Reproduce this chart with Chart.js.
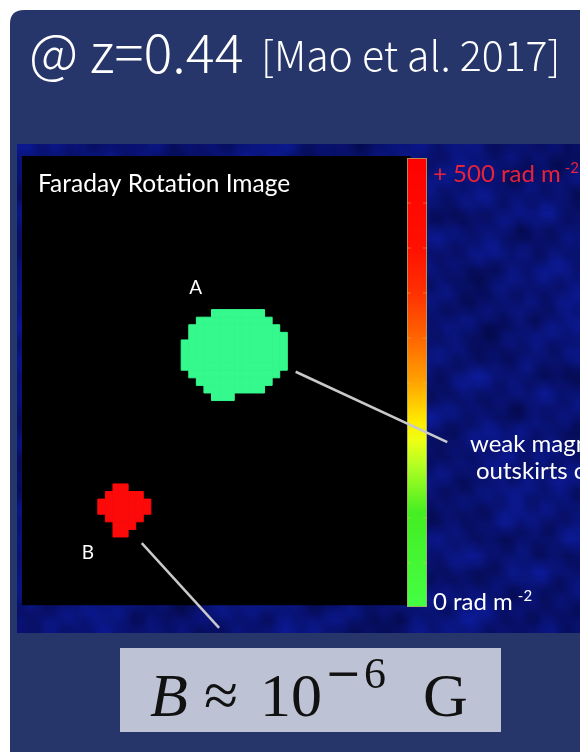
<!DOCTYPE html>
<html><head><meta charset="utf-8">
<script src="https://cdn.jsdelivr.net/npm/chart.js@4/dist/chart.umd.min.js"></script>
<style>html,body{margin:0;padding:0;background:#fff;overflow:hidden}canvas{display:block}</style>
</head><body><canvas id="c" width="580" height="752"></canvas>
<script>
// Faraday rotation map (map-pixel grid): rows and first/last column of each source
const blobARows  = [20,21,22,23,24,25,26,27,28,29,30,31];
const blobAStart = [25,23,22,22,21,21,21,21,22,23,24,25];
const blobAEnd   = [31,32,33,34,34,34,34,34,33,32,31,27];
const blobBRows  = [43,44,45,46,47,48,49];
const blobBStart = [12,11,10,10,11,12,12];
const blobBEnd   = [13,15,16,16,15,14,13];
// source labels (map coordinates)
const sourceNames  = ['A','B'];
const sourceLabelX = [22.4, 8.2];
const sourceLabelY = [16.7, 51.6];
// leader lines (map coordinates)
const leaderA = [{x:35.6,y:27.7},{x:55.6,y:37.0}];
const leaderB = [{x:15.3,y:50.3},{x:25.5,y:61.5}];
// colour bar range labels
const rmLabels = ['+ 500 rad m', '0 rad m'];
const titleMain = '@ z=0.44';
const titleRef = '[Mao et al. 2017]';
const mapTitle = 'Faraday Rotation Image';
const sideText = ['weak magnetic', 'outskirts of'];

function cells(rows, s, e){
  const out=[];
  rows.forEach((r,i)=>{ for(let c=s[i]; c<=e[i]; c++) out.push({x:c,y:r}); });
  return out;
}
const cellRadius = (ctx)=>{
  const sx = ctx.chart.scales.x;
  return Math.abs(sx.getPixelForValue(1)-sx.getPixelForValue(0))/Math.SQRT2;
};

function roundRect(ctx,x,y,w,h,r){
  ctx.beginPath();
  ctx.moveTo(x+r,y); ctx.lineTo(x+w-r,y); ctx.quadraticCurveTo(x+w,y,x+w,y+r);
  ctx.lineTo(x+w,y+h-r); ctx.quadraticCurveTo(x+w,y+h,x+w-r,y+h);
  ctx.lineTo(x+r,y+h); ctx.quadraticCurveTo(x,y+h,x,y+h-r);
  ctx.lineTo(x,y+r); ctx.quadraticCurveTo(x,y,x+r,y); ctx.closePath();
}

// decorative mottled blue background texture (not data)
function makeTexture(){
  const W=70,H=60;
  const off=document.createElement('canvas'); off.width=W; off.height=H;
  const o=off.getContext('2d'); const img=o.createImageData(W,H);
  for(let y=0;y<H;y++) for(let x=0;x<W;x++){
    let v = 0.52
      + 0.14*Math.sin(x*0.61+y*0.23+1.3)*Math.cos(y*0.47-x*0.19)
      + 0.12*Math.sin(x*0.27-y*0.53+2.0*Math.sin(y*0.31))
      + 0.10*Math.cos(x*1.13+y*0.87+Math.sin(x*0.4))
      + 0.08*Math.sin(x*1.91-y*1.37)
      + 0.07*Math.cos(y*1.71+x*0.37);
    v=Math.max(0,Math.min(1,v));
    const i=(y*W+x)*4;
    img.data[i]=4+9*v; img.data[i+1]=8+20*v; img.data[i+2]=68+90*v; img.data[i+3]=255;
  }
  o.putImageData(img,0,0);
  return off;
}
const texture = makeTexture();

const backgroundPlugin = {
  id:'slide',
  beforeDraw(chart){
    const ctx=chart.ctx, a=chart.chartArea;
    ctx.save();
    ctx.fillStyle='#ffffff'; ctx.fillRect(0,0,580,752);
    ctx.fillStyle='#27366a'; roundRect(ctx,10,10,600,780,14); ctx.fill();
    // title
    ctx.fillStyle='#ffffff'; ctx.textBaseline='alphabetic';
    ctx.font='300 54px "Noto Sans CJK KR", "Noto Sans", sans-serif';
    ctx.fillText(titleMain,29,73);
    ctx.font='300 41px "Noto Sans CJK KR", "Noto Sans", sans-serif';
    ctx.fillText(titleRef,261,71);
    // image background
    ctx.imageSmoothingEnabled=true;
    ctx.drawImage(texture,17,144,563,489);
    // black map panel
    ctx.fillStyle='#000000';
    ctx.fillRect(a.left,a.top-2,a.right-a.left+2,a.bottom-a.top+2);
    // formula box
    ctx.fillStyle='#bdc2d4'; ctx.fillRect(120,648,381,84);
    ctx.fillStyle='#111111';
    ctx.font='italic 62px "Liberation Serif", serif';
    ctx.fillText('B',150,716);
    ctx.font='62px "Liberation Serif", serif';
    ctx.fillText('\u2248',204,716);
    ctx.fillText('10',260,716);
    ctx.font='44px "DejaVu Serif", serif';
    ctx.fillText('\u2212',325,688);
    ctx.font='44px "Liberation Serif", serif';
    ctx.fillText('6',364,688);
    ctx.font='62px "Liberation Serif", serif';
    ctx.fillText('G',423,716);
    ctx.restore();
  },
  beforeDatasetsDraw(chart){
    const ctx=chart.ctx, a=chart.chartArea;
    ctx.save();
    // colour bar
    const x0=407, x1=427, y0=a.top, y1=607;
    const g=ctx.createLinearGradient(0,y0,0,y1);
    g.addColorStop(0,'#ff0000'); g.addColorStop(0.2,'#ff1000');
    g.addColorStop(0.3,'#ff3000'); g.addColorStop(0.405,'#ff6800');
    g.addColorStop(0.495,'#ffa000'); g.addColorStop(0.59,'#ffee00');
    g.addColorStop(0.63,'#eeff14'); g.addColorStop(0.68,'#b8ff22');
    g.addColorStop(0.79,'#44ee22'); g.addColorStop(1,'#44ff44');
    ctx.fillStyle=g; ctx.fillRect(x0,y0,x1-x0,y1-y0);
    ctx.strokeStyle='rgba(170,170,100,0.8)'; ctx.lineWidth=1;
    ctx.strokeRect(x0+0.5,y0+0.5,x1-x0-1,y1-y0-1);
    ctx.strokeStyle='rgba(230,200,90,0.45)';
    for(let ty=y0+45; ty<y1-10; ty+=45){
      ctx.beginPath(); ctx.moveTo(x0,ty); ctx.lineTo(x0+4,ty);
      ctx.moveTo(x1-4,ty); ctx.lineTo(x1,ty); ctx.stroke();
    }
    // colour bar labels
    ctx.textBaseline='alphabetic';
    ctx.font='24px Lato, sans-serif';
    ctx.fillStyle='#e8223a';
    ctx.fillText(rmLabels[0],433,182);
    let w=ctx.measureText(rmLabels[0]).width;
    ctx.font='15px Lato, sans-serif';
    ctx.fillText('-2',433+w+4,173);
    ctx.font='24px Lato, sans-serif';
    ctx.fillStyle='#ffffff';
    ctx.fillText(rmLabels[1],433,610);
    w=ctx.measureText(rmLabels[1]).width;
    ctx.font='15px Lato, sans-serif';
    ctx.fillText('-2',433+w+5,601);
    // side text
    ctx.font='24px Lato, sans-serif';
    ctx.fillStyle='#ffffff';
    ctx.fillText(sideText[0],470,452);
    ctx.fillText(sideText[1],476,479);
    // map title and source labels
    ctx.font='24.5px Lato, sans-serif';
    ctx.fillText(mapTitle,38,192);
    ctx.font='19px Lato, sans-serif'; ctx.textAlign='center'; ctx.textBaseline='middle';
    const sx=chart.scales.x, sy=chart.scales.y;
    sourceNames.forEach((n,i)=>ctx.fillText(n,sx.getPixelForValue(sourceLabelX[i]),sy.getPixelForValue(sourceLabelY[i])));
    ctx.restore();
  }
};

new Chart(document.getElementById('c'),{
  type:'scatter',
  data:{datasets:[
    {label:'A', data:cells(blobARows,blobAStart,blobAEnd), pointStyle:'rect',
     backgroundColor:'#35f98c', borderColor:'#35f98c', borderWidth:1,
     pointRadius:cellRadius, pointHoverRadius:cellRadius},
    {label:'B', data:cells(blobBRows,blobBStart,blobBEnd), pointStyle:'rect',
     backgroundColor:'#fc0a0a', borderColor:'#fc0a0a', borderWidth:1,
     pointRadius:cellRadius, pointHoverRadius:cellRadius},
    {type:'line', label:'leaderA', data:leaderA, borderColor:'#c9c9cc', borderWidth:2.5,
     pointRadius:0, clip:false, showLine:true, fill:false},
    {type:'line', label:'leaderB', data:leaderB, borderColor:'#c9c9cc', borderWidth:2.5,
     pointRadius:0, clip:false, showLine:true, fill:false}
  ]},
  options:{
    responsive:false, animation:false, events:[],
    layout:{padding:{left:22, top:158, right:171.4, bottom:146.8}},
    scales:{
      x:{type:'linear', min:-0.5, max:50.5, display:false},
      y:{type:'linear', min:-0.5, max:58.5, reverse:true, display:false}
    },
    plugins:{legend:{display:false}, tooltip:{enabled:false}}
  },
  plugins:[backgroundPlugin]
});
</script>
</body></html>
